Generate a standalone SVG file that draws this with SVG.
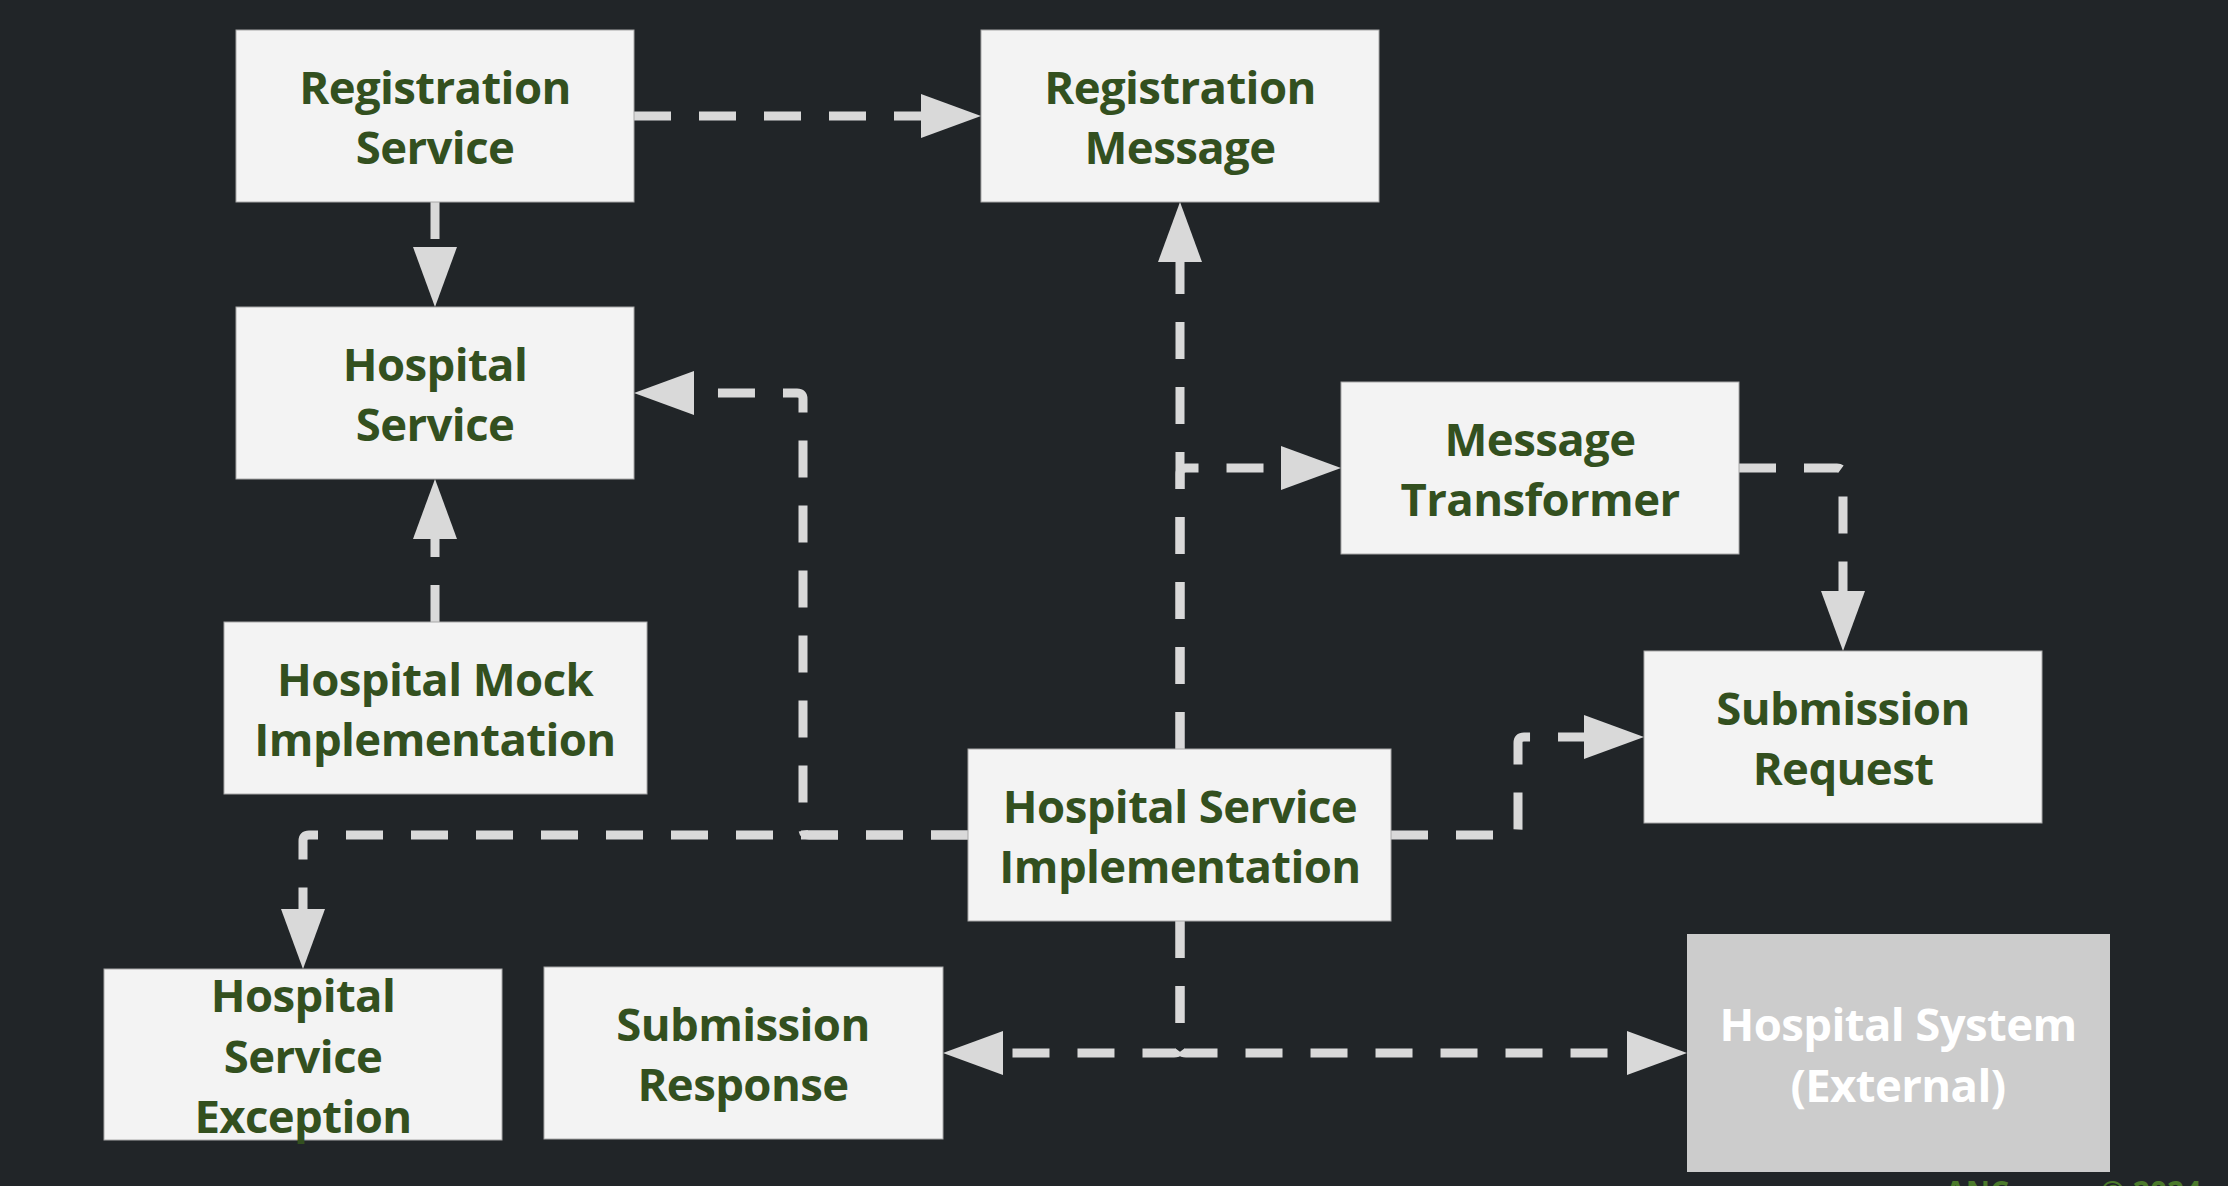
<svg xmlns="http://www.w3.org/2000/svg" width="2228" height="1186" viewBox="0 0 2228 1186">
<style>
.bg{fill:#212528}
.box rect{fill:#f3f3f3;stroke:#a8a8a8;stroke-width:1}
.box text{font-family:"Open Sans","Liberation Sans",sans-serif;font-weight:700;font-size:45.5px;letter-spacing:-0.6px;fill:#33501f;text-anchor:middle}
.ext rect{fill:#cccccc;stroke:none}
.ext text{fill:#ffffff}
.edges path{fill:none;stroke:#d9d9d9;stroke-width:9;stroke-dasharray:37 28;marker-end:url(#arr)}
.foot{font-family:"Open Sans","Liberation Sans",sans-serif;font-weight:700;font-size:30px;fill:#4b7a2b}
</style>
<defs>
<marker id="arr" markerUnits="userSpaceOnUse" markerWidth="60" markerHeight="44" refX="0" refY="22" orient="auto" viewBox="0 0 60 44">
<path d="M0,0 L60,22 L0,44 z" fill="#d9d9d9"/>
</marker>
</defs>
<rect class="bg" x="0" y="0" width="2228" height="1186"/>
<g class="edges">
<path d="M634,116 H921"/>
<path d="M435,202 V247"/>
<path d="M435,622 V539"/>
<path d="M968,835 H809 Q803,835 803,829 V399 Q803,393 797,393 H694"/>
<path d="M968,835 H309 Q303,835 303,841 V909"/>
<path d="M1180,749 V262"/>
<path d="M1180,749 V474 Q1180,468 1186,468 H1281"/>
<path d="M1739,468 H1837 Q1843,468 1843,474 V591"/>
<path d="M1391,835 H1512 Q1518,835 1518,829 V743 Q1518,737 1524,737 H1584"/>
<path d="M1180,921 V1047 Q1180,1053 1174,1053 H1003"/>
<path d="M1180,921 V1047 Q1180,1053 1186,1053 H1627"/>
</g>
<g id="registration-service" class="box"><rect x="236" y="30" width="398" height="172"/><text x="435" y="104">Registration</text><text x="435" y="164">Service</text></g>
<g id="registration-message" class="box"><rect x="981" y="30" width="398" height="172"/><text x="1180" y="104">Registration</text><text x="1180" y="164">Message</text></g>
<g id="hospital-service" class="box"><rect x="236" y="307" width="398" height="172"/><text x="435" y="381">Hospital</text><text x="435" y="441">Service</text></g>
<g id="message-transformer" class="box"><rect x="1341" y="382" width="398" height="172"/><text x="1540" y="456">Message</text><text x="1540" y="516">Transformer</text></g>
<g id="hospital-mock-implementation" class="box"><rect x="224" y="622" width="423" height="172"/><text x="435" y="696">Hospital Mock</text><text x="435" y="756">Implementation</text></g>
<g id="submission-request" class="box"><rect x="1644" y="651" width="398" height="172"/><text x="1843" y="725">Submission</text><text x="1843" y="785">Request</text></g>
<g id="hospital-service-implementation" class="box"><rect x="968" y="749" width="423" height="172"/><text x="1180" y="823">Hospital Service</text><text x="1180" y="883">Implementation</text></g>
<g id="hospital-service-exception" class="box"><rect x="104" y="969" width="398" height="171"/><text x="303" y="1012">Hospital</text><text x="303" y="1073">Service</text><text x="303" y="1133">Exception</text></g>
<g id="submission-response" class="box"><rect x="544" y="967" width="399" height="172"/><text x="743" y="1041">Submission</text><text x="743" y="1101">Response</text></g>
<g id="hospital-system-external" class="box ext"><rect x="1687" y="934" width="423" height="238"/><text x="1898" y="1041">Hospital System</text><text x="1898" y="1102">(External)</text></g>
<text class="foot" x="1945" y="1203">ANC</text>
<text class="foot" x="2100" y="1203">© 2024</text>
</svg>
